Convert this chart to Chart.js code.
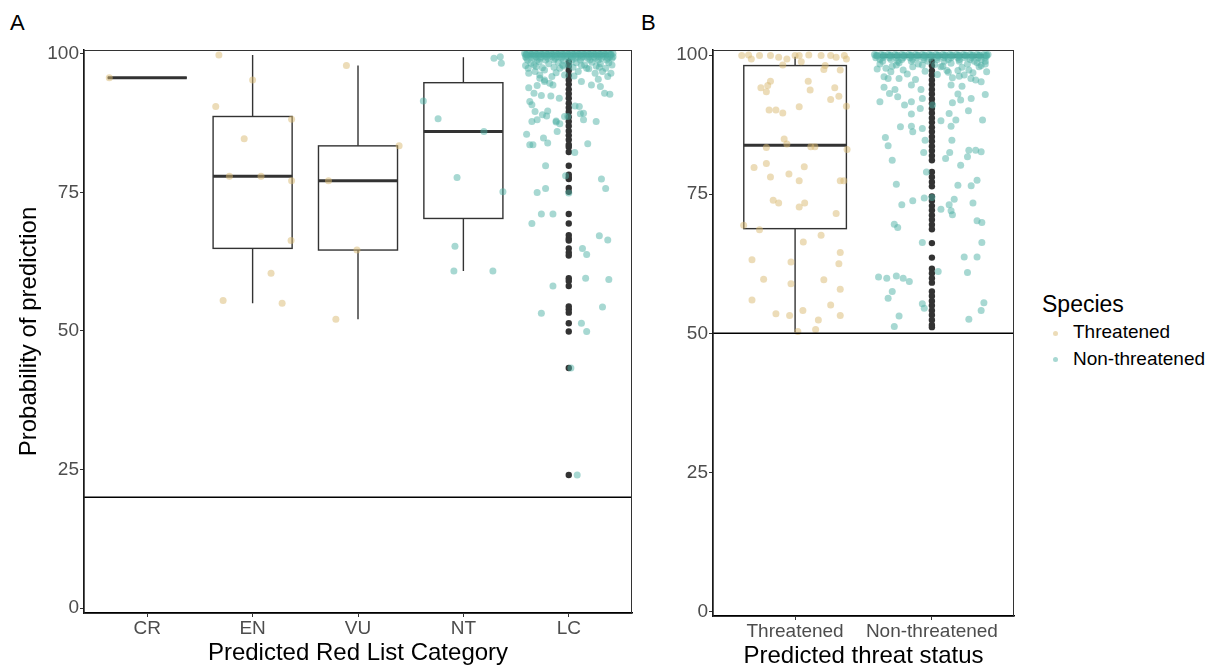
<!DOCTYPE html>
<html>
<head>
<meta charset="utf-8">
<script src="https://cdn.jsdelivr.net/npm/chart.js@4.4.1/dist/chart.umd.min.js"></script>
<style>
  body { margin: 0; background: #fff; width: 1211px; height: 666px; overflow: hidden; position: relative;
         font-family: "Liberation Sans", Arial, sans-serif; }
  #wrapA { position: absolute; left: 0; top: 0; width: 640px; height: 666px; }
  #wrapB { position: absolute; left: 640px; top: 0; width: 400px; height: 666px; }
  .tag { position: absolute; font-size: 22px; line-height: 22px; color: #000; }
  .leg { position: absolute; color: #000; white-space: nowrap; }
  .dot { position: absolute; width: 5px; height: 5px; border-radius: 50%; }
</style>
</head>
<body>
<div class="tag" style="left:10px;top:12px">A</div>
<div class="tag" style="left:641px;top:12px">B</div>
<div id="wrapA"><canvas id="chartA" width="640" height="666"></canvas></div>
<div id="wrapB"><canvas id="chartB" width="400" height="666"></canvas></div>

<div class="leg" style="left:1042px;top:293px;font-size:23px;line-height:23px">Species</div>
<div class="dot" style="left:1052.5px;top:330.5px;background:rgba(217,185,113,0.5)"></div>
<div class="leg" style="left:1073px;top:322px;font-size:19px;line-height:19px">Threatened</div>
<div class="dot" style="left:1052.5px;top:356.5px;background:rgba(80,177,165,0.5)"></div>
<div class="leg" style="left:1073px;top:349px;font-size:19px;line-height:19px">Non-threatened</div>

<script>
// ---- data ----
const redListCats = ["CR", "EN", "VU", "NT", "LC"];
const threatCats = ["Threatened", "Non-threatened"];
const yTicks = [0, 25, 50, 75, 100];

// box stats: [lower whisker, Q1, median, Q3, upper whisker]
const redListBoxes = [
  [95.7, 95.7, 95.7, 95.7, 95.7],
  [55.0, 64.9, 77.9, 88.7, 99.8],
  [52.1, 64.6, 77.1, 83.4, 97.9],
  [60.8, 70.3, 86.0, 94.8, 99.4],
  [98.9, 99.6, 99.9, 100, 100]
];
const threatBoxes = [
  [50.2, 68.8, 83.8, 98.1, 99.7],
  [98.9, 99.6, 99.9, 100, 100]
];

// jittered points: [jitter (category units), probability]
const crPts = [[-0.36, 95.7]];
const enPts = [[-0.32, 99.8], [0.0, 95.3], [-0.35, 90.5], [0.37, 88.2], [-0.08, 84.7], [-0.22, 77.9],
  [0.08, 77.9], [0.37, 77.1], [0.365, 66.3], [0.175, 60.4], [-0.28, 55.5], [0.28, 55.0]];
const vuPts = [[-0.11, 97.9], [0.39, 83.4], [-0.28, 77.1], [-0.01, 64.6], [-0.21, 52.1]];
const ntPts = [[-0.38, 91.5], [-0.24, 88.3], [0.195, 86.0], [-0.06, 77.7], [0.375, 75.1], [-0.08, 65.3],
  [-0.09, 60.8], [0.28, 60.8], [0.29, 99.2], [0.35, 99.5], [0.36, 98.3]];
const lcPts = [[-0.386, 97.4], [-0.32, 96.8], [-0.275, 96.2], [-0.23, 95.3], [-0.18, 94.7], [-0.38, 93.9],
  [-0.33, 92.9], [-0.26, 92.5], [-0.17, 92.4], [-0.09, 92.0], [-0.35, 90.8], [-0.2, 89.7], [-0.25, 89.0],
  [-0.21, 88.8], [-0.35, 87.8], [-0.3, 88.1], [-0.12, 87.7], [-0.085, 87.4], [-0.11, 86.0], [-0.01, 88.7],
  [-0.4, 85.5], [-0.37, 83.6], [-0.34, 83.6], [-0.24, 84.8], [-0.2, 83.9], [0.06, 90.6], [0.1, 90.5],
  [0.11, 89.2], [0.14, 88.1], [0.26, 87.8], [0.18, 83.8], [0.057, 82.2], [-0.22, 79.8], [-0.03, 78.0],
  [0.31, 77.4], [0.35, 75.7], [-0.22, 75.7], [-0.3, 75.0], [0.0, 74.9], [-0.26, 71.1], [-0.15, 71.1],
  [-0.35, 69.4], [0.29, 67.2], [0.37, 66.4], [0.13, 64.9], [0.17, 63.8], [0.16, 59.5], [0.38, 59.3],
  [-0.15, 58.1], [0.32, 54.3], [-0.26, 53.2], [0.12, 51.4], [0.17, 49.9], [0.02, 43.3], [0.08, 24.0],
  [0.09, 96.8], [0.17, 97.4], [0.25, 96.5], [0.32, 96.8], [0.37, 95.9], [0.215, 94.4], [0.3, 94.1],
  [0.34, 92.9], [0.39, 92.7], [0.14, 89.3], [-0.31, 97.7], [-0.23, 97.1], [-0.16, 95.9], [-0.085, 97.4],
  [-0.04, 96.2], [-0.275, 95.6], [-0.23, 95.0], [-0.15, 94.4], [-0.37, 91.4], [-0.32, 89.6], [-0.12, 87.9],
  [-0.04, 88.7], [-0.36, 98.3], [-0.28, 98.6], [-0.19, 98.2], [-0.1, 98.5], [0.0, 98.1], [0.07, 98.4],
  [0.15, 98.0], [0.22, 98.5], [0.3, 98.2], [0.38, 98.4], [-0.05, 97.8], [0.26, 97.8],
  [-0.41, 97.9], [-0.33, 98.0], [-0.25, 97.5], [-0.14, 97.6], [-0.06, 98.0], [0.04, 97.6], [0.12, 97.9],
  [0.19, 97.3], [0.29, 97.6], [0.35, 97.4], [0.41, 98.0], [-0.38, 96.5], [-0.12, 96.6], [0.05, 96.0],
  [0.28, 95.4], [0.12, 95.0], [-0.3, 94.3], [0.4, 96.5]];
// the solid band of LC points at the top
const lcBand = [
  [-0.42, 100.1], [-0.37, 100.1], [-0.32, 100.1], [-0.27, 100.1], [-0.22, 100.1], [-0.17, 100.1],
  [-0.12, 100.1], [-0.07, 100.1], [-0.02, 100.1], [0.03, 100.1], [0.08, 100.1], [0.13, 100.1],
  [0.18, 100.1], [0.23, 100.1], [0.28, 100.1], [0.33, 100.1], [0.38, 100.1], [0.42, 100.1],
  [-0.4, 100.0], [-0.35, 100.0], [-0.3, 100.0], [-0.25, 100.0], [-0.2, 100.0], [-0.15, 100.0],
  [-0.1, 100.0], [-0.05, 100.0], [0.0, 100.0], [0.05, 100.0], [0.1, 100.0], [0.15, 100.0],
  [0.2, 100.0], [0.25, 100.0], [0.3, 100.0], [0.35, 100.0], [0.4, 100.0],
  [-0.41, 99.9], [-0.36, 99.9], [-0.31, 99.9], [-0.26, 99.9], [-0.21, 99.9], [-0.16, 99.9],
  [-0.11, 99.9], [-0.06, 99.9], [-0.01, 99.9], [0.04, 99.9], [0.09, 99.9], [0.14, 99.9],
  [0.19, 99.9], [0.24, 99.9], [0.29, 99.9], [0.34, 99.9], [0.39, 99.9],
  [-0.4, 99.8], [-0.35, 99.8], [-0.3, 99.8], [-0.25, 99.8], [-0.2, 99.8], [-0.15, 99.8], [-0.1, 99.8],
  [-0.05, 99.8], [0.0, 99.8], [0.05, 99.8], [0.1, 99.8], [0.15, 99.8], [0.2, 99.8], [0.25, 99.8],
  [0.3, 99.8], [0.35, 99.8], [0.4, 99.8],
  [-0.41, 99.5], [-0.36, 99.5], [-0.31, 99.5], [-0.26, 99.5], [-0.21, 99.5], [-0.16, 99.5],
  [-0.11, 99.5], [-0.06, 99.5], [-0.01, 99.5], [0.04, 99.5], [0.09, 99.5], [0.14, 99.5],
  [0.19, 99.5], [0.24, 99.5], [0.29, 99.5], [0.34, 99.5], [0.39, 99.5], [0.42, 99.5],
  [-0.4, 99.2], [-0.33, 99.2], [-0.27, 99.2], [-0.2, 99.2], [-0.13, 99.2], [-0.07, 99.2], [0.0, 99.2],
  [0.06, 99.2], [0.12, 99.2], [0.18, 99.2], [0.25, 99.2], [0.31, 99.2], [0.37, 99.2], [0.41, 99.2],
  [-0.39, 98.9], [-0.3, 98.9], [-0.22, 98.9], [-0.14, 98.9], [-0.05, 98.9], [0.03, 98.9], [0.11, 98.9],
  [0.2, 98.9], [0.28, 98.9], [0.36, 98.9]];
const lcOutliers = [98.6, 97.8, 97.0, 96.1, 95.3, 94.5, 93.6, 92.8, 92.0, 91.1, 90.3, 89.5, 88.6, 87.8,
  87.0, 86.1, 85.3, 84.5, 83.6, 83.2, 82.3, 79.8, 78.2, 77.7, 77.4, 75.8, 75.1, 71.1, 69.4, 67.3, 66.7,
  66.3, 64.9, 64.1, 63.6, 59.5, 59.0, 58.1, 54.4, 53.9, 53.3, 51.4, 49.9, 43.3, 24.0];

const thrPts = [[-0.39, 99.9], [-0.32, 99.3], [-0.26, 99.9], [-0.18, 99.9], [-0.06, 99.3], [0.0, 99.9],
  [0.03, 99.9], [0.045, 98.8], [-0.09, 98.2], [0.19, 99.9], [0.26, 99.9], [0.22, 98.1], [0.21, 97.4],
  [0.33, 97.3], [0.36, 99.9], [0.375, 99.3], [-0.18, 95.3], [-0.2, 94.5], [-0.25, 94.1], [-0.21, 93.4],
  [0.096, 95.3], [0.11, 93.7], [0.29, 94.1], [0.26, 92.0], [0.32, 92.6], [0.375, 90.8], [0.03, 90.7],
  [-0.19, 90.1], [-0.14, 90.1], [-0.09, 89.6], [-0.08, 84.9], [-0.06, 84.0], [-0.21, 83.4], [0.115, 83.5],
  [0.145, 83.5], [0.38, 83.0], [-0.3, 79.8], [-0.21, 80.5], [-0.045, 78.6], [-0.18, 78.1], [0.067, 79.9],
  [0.03, 77.4], [0.33, 77.4], [0.356, 77.4], [-0.16, 73.9], [-0.12, 73.4], [0.07, 73.4], [0.03, 72.7],
  [0.3, 71.5], [-0.376, 69.4], [-0.26, 68.6], [0.19, 67.6], [0.06, 66.4], [0.33, 64.5], [-0.315, 63.2],
  [-0.03, 62.8], [0.32, 62.5], [-0.23, 59.7], [0.21, 59.6], [-0.03, 58.9], [0.33, 57.9], [-0.315, 56.0],
  [0.26, 55.1], [-0.14, 53.5], [-0.04, 53.2], [0.057, 54.1], [0.33, 53.2], [0.17, 52.4], [0.02, 50.3],
  [0.15, 50.7], [-0.34, 100], [-0.12, 99.6], [0.1, 100], [0.3, 99.6]];
const nonPts = [[-0.336, 97.6], [-0.29, 98.0], [-0.21, 97.3], [-0.14, 97.9], [-0.07, 98.2], [-0.35, 96.1],
  [-0.32, 95.8], [-0.24, 95.8], [-0.12, 95.6], [-0.15, 94.6], [-0.08, 93.8], [-0.35, 94.2], [-0.27, 93.8],
  [-0.31, 93.1], [-0.25, 92.5], [-0.38, 91.6], [-0.2, 91.0], [-0.15, 91.6], [-0.07, 92.2], [-0.085, 90.4],
  [-0.15, 89.4], [-0.23, 87.1], [-0.15, 87.2], [-0.14, 86.2], [-0.07, 86.8], [-0.34, 85.2], [-0.32, 83.7],
  [-0.05, 84.7], [-0.06, 82.5], [-0.29, 81.1], [-0.04, 79.0], [-0.26, 76.8], [-0.22, 73.1], [-0.14, 73.8],
  [-0.275, 69.6], [-0.25, 69.0], [-0.07, 66.3], [-0.39, 60.1], [-0.33, 59.9], [-0.26, 60.3], [-0.21, 59.9],
  [-0.165, 59.3], [-0.29, 57.5], [-0.32, 56.3], [-0.07, 55.3], [-0.056, 54.5], [-0.24, 53.1], [-0.275, 51.2],
  [0.066, 97.9], [0.11, 97.2], [0.19, 97.2], [0.27, 97.3], [0.345, 97.9], [0.39, 98.4], [0.15, 95.9],
  [0.2, 96.2], [0.236, 96.4], [0.285, 95.8], [0.32, 95.5], [0.36, 95.2], [0.14, 94.6], [0.22, 94.4],
  [0.19, 93.0], [0.287, 92.2], [0.39, 92.9], [0.15, 91.4], [0.21, 91.9], [0.267, 90.0], [0.126, 89.5],
  [0.175, 88.3], [0.066, 88.2], [0.14, 87.2], [0.37, 88.3], [0.146, 84.7], [0.27, 82.9], [0.32, 82.9],
  [0.36, 82.6], [0.26, 81.7], [0.13, 82.5], [0.1, 81.4], [0.21, 80.2], [0.33, 77.5], [0.19, 76.6],
  [0.287, 76.5], [0.163, 74.1], [0.126, 73.1], [0.066, 72.3], [0.14, 72.0], [0.15, 71.3], [0.3, 73.4],
  [0.33, 70.2], [0.365, 69.9], [0.365, 66.3], [0.236, 63.7], [0.33, 63.7], [0.046, 61.1], [0.26, 60.9],
  [0.38, 55.5], [0.36, 54.1], [0.27, 52.5], [0.005, 91.0], [-0.056, 74.3], [0.0, 74.4],
  [-0.38, 98.4], [-0.24, 98.6], [-0.1, 98.4], [0.02, 98.3], [0.14, 98.5], [0.26, 98.4], [0.33, 98.6],
  [-0.4, 97.5], [-0.3, 97.0], [-0.18, 96.6], [-0.05, 97.1], [0.04, 96.5], [0.12, 96.9], [0.22, 97.8],
  [0.3, 96.8], [0.4, 97.0], [-0.26, 98.2], [0.08, 98.0], [0.36, 98.1]];
const nonBand = [
  [-0.42, 100.1], [-0.37, 100.1], [-0.32, 100.1], [-0.27, 100.1], [-0.22, 100.1], [-0.17, 100.1],
  [-0.12, 100.1], [-0.07, 100.1], [-0.02, 100.1], [0.03, 100.1], [0.08, 100.1], [0.13, 100.1],
  [0.18, 100.1], [0.23, 100.1], [0.28, 100.1], [0.33, 100.1], [0.38, 100.1], [0.41, 100.1],
  [-0.4, 100.0], [-0.35, 100.0], [-0.3, 100.0], [-0.25, 100.0], [-0.2, 100.0], [-0.15, 100.0],
  [-0.1, 100.0], [-0.05, 100.0], [0.0, 100.0], [0.05, 100.0], [0.1, 100.0], [0.15, 100.0],
  [0.2, 100.0], [0.25, 100.0], [0.3, 100.0], [0.35, 100.0], [0.4, 100.0],
  [-0.41, 99.9], [-0.36, 99.9], [-0.31, 99.9], [-0.26, 99.9], [-0.21, 99.9], [-0.16, 99.9],
  [-0.11, 99.9], [-0.06, 99.9], [-0.01, 99.9], [0.04, 99.9], [0.09, 99.9], [0.14, 99.9],
  [0.19, 99.9], [0.24, 99.9], [0.29, 99.9], [0.34, 99.9], [0.39, 99.9],
  [-0.4, 99.8], [-0.35, 99.8], [-0.3, 99.8], [-0.25, 99.8], [-0.2, 99.8], [-0.15, 99.8], [-0.1, 99.8],
  [-0.05, 99.8], [0.0, 99.8], [0.05, 99.8], [0.1, 99.8], [0.15, 99.8], [0.2, 99.8], [0.25, 99.8],
  [0.3, 99.8], [0.35, 99.8], [0.4, 99.8],
  [-0.41, 99.5], [-0.36, 99.5], [-0.31, 99.5], [-0.26, 99.5], [-0.21, 99.5], [-0.16, 99.5],
  [-0.11, 99.5], [-0.06, 99.5], [-0.01, 99.5], [0.04, 99.5], [0.09, 99.5], [0.14, 99.5],
  [0.19, 99.5], [0.24, 99.5], [0.29, 99.5], [0.34, 99.5], [0.39, 99.5],
  [-0.38, 99.2], [-0.3, 99.2], [-0.22, 99.2], [-0.14, 99.2], [-0.06, 99.2], [0.04, 99.2], [0.12, 99.2],
  [0.2, 99.2], [0.28, 99.2], [0.36, 99.2],
  [-0.36, 98.9], [-0.25, 98.9], [-0.15, 98.9], [-0.03, 98.9], [0.09, 98.9], [0.2, 98.9], [0.31, 98.9], [0.39, 98.9]];
const nonOutliers = [98.9, 98.1, 97.2, 96.4, 95.5, 94.7, 93.8, 93.0, 92.1, 91.3, 90.4, 89.6, 88.7, 87.9,
  87.0, 86.2, 85.3, 84.5, 83.6, 82.8, 81.9, 81.1, 79.0, 78.1, 77.2, 76.4, 74.6, 73.8, 72.9, 72.1, 71.2,
  70.4, 69.5, 68.7, 66.2, 63.6, 61.6, 60.8, 59.9, 59.1, 57.5, 56.7, 55.8, 55.0, 54.1, 53.3, 52.4, 51.5, 51.1];

// ---- styles ----
const TAN = "rgba(217,185,113,0.5)";
const TEAL = "rgba(80,177,165,0.5)";
const FONT = "'Liberation Sans', Arial, sans-serif";

const toXY = (pts, cat) => pts.map(p => ({ x: cat + p[0], y: p[1] }));

function panelPlugin(boxes, hline) {
  return {
    id: "panel",
    beforeDatasetsDraw(chart) {
      const { ctx, scales: { x, y } } = chart;
      ctx.save();
      ctx.strokeStyle = "#333";
      boxes.forEach((b, i) => {
        const xl = x.getPixelForValue(i + 1 - 0.375);
        const xr = x.getPixelForValue(i + 1 + 0.375);
        const xc = x.getPixelForValue(i + 1);
        const [lo, q1, med, q3, hi] = b.map(v => y.getPixelForValue(v));
        ctx.lineWidth = 1.4;
        ctx.beginPath();
        ctx.moveTo(xc, hi); ctx.lineTo(xc, q3);
        ctx.moveTo(xc, q1); ctx.lineTo(xc, lo);
        ctx.stroke();
        ctx.strokeRect(xl, q3, xr - xl, q1 - q3);
        ctx.lineWidth = 3;
        ctx.beginPath();
        ctx.moveTo(xl, med); ctx.lineTo(xr, med);
        ctx.stroke();
      });
      ctx.restore();
    },
    afterDatasetsDraw(chart) {
      const { ctx, chartArea, scales: { y } } = chart;
      const yy = y.getPixelForValue(hline);
      ctx.save();
      ctx.strokeStyle = "#000";
      ctx.lineWidth = 1.5;
      ctx.beginPath();
      ctx.moveTo(chartArea.left, yy); ctx.lineTo(chartArea.right, yy);
      ctx.stroke();
      ctx.restore();
    },
    afterDraw(chart) {
      const { ctx, chartArea: a } = chart;
      ctx.save();
      ctx.strokeStyle = "#333";
      ctx.lineWidth = 1;
      ctx.strokeRect(a.left, a.top + 0.5, a.right - a.left - 0.5, a.bottom - a.top);
      ctx.restore();
    }
  };
}

function axes(cats, xTitle, titleShift, yMin, yMax, yWidth, xHeight, yTitle) {
  return {
    x: {
      type: "linear", min: 0.4, max: cats.length + 0.6,
      afterBuildTicks: s => { s.ticks = cats.map((c, i) => ({ value: i + 1 })); },
      afterFit: s => { s.height = xHeight; },
      ticks: { autoSkip: false, maxRotation: 0, padding: 0, color: "#4d4d4d",
               font: { family: FONT, size: 19 }, callback: (v, i) => cats[i] },
      grid: { display: true, drawOnChartArea: false, drawTicks: true, tickLength: 4, color: "#333" },
      border: { display: true, color: "#000", width: 1.5 },
      title: { display: true, text: xTitle, color: "#000", font: { family: FONT, size: 24 },
               padding: { top: 0, bottom: titleShift } }
    },
    y: {
      type: "linear", min: yMin, max: yMax,
      afterBuildTicks: s => { s.ticks = yTicks.map(v => ({ value: v })); },
      afterFit: s => { s.width = yWidth; },
      ticks: { padding: 1, color: "#4d4d4d", font: { family: FONT, size: 19 } },
      grid: { display: true, drawOnChartArea: false, drawTicks: true, tickLength: 4, color: "#333" },
      border: { display: true, color: "#000", width: 1.5 },
      title: { display: !!yTitle, text: yTitle || "", color: "#000",
               font: { family: FONT, size: 24 }, padding: { top: 15, bottom: 0 } }
    }
  };
}

const common = {
  responsive: false,
  animation: false,
  plugins: { legend: { display: false }, tooltip: { enabled: false } }
};

new Chart(document.getElementById("chartA"), {
  type: "scatter",
  data: {
    datasets: [
      { label: "Threatened", order: 1, pointRadius: 3.5, borderWidth: 0, backgroundColor: TAN,
        data: [...toXY(crPts, 1), ...toXY(enPts, 2), ...toXY(vuPts, 3)] },
      { label: "Non-threatened", order: 1, pointRadius: 3.5, borderWidth: 0, backgroundColor: TEAL,
        data: [...toXY(ntPts, 4), ...toXY(lcPts, 5), ...toXY(lcBand, 5)] },
      { label: "outliers", order: 3, pointRadius: 3.2, borderWidth: 0, backgroundColor: "#333",
        data: lcOutliers.map(v => ({ x: 5, y: v })) }
    ]
  },
  options: {
    ...common,
    layout: { padding: { left: 0, right: 8, top: 50, bottom: 0 } },
    scales: axes(redListCats, "Predicted Red List Category", -2, -0.9, 100.7, 84, 53, "Probability of prediction")
  },
  plugins: [panelPlugin(redListBoxes, 20)]
});

new Chart(document.getElementById("chartB"), {
  type: "scatter",
  data: {
    datasets: [
      { label: "Threatened", order: 1, pointRadius: 3.5, borderWidth: 0, backgroundColor: TAN,
        data: toXY(thrPts, 1) },
      { label: "Non-threatened", order: 1, pointRadius: 3.5, borderWidth: 0, backgroundColor: TEAL,
        data: [...toXY(nonPts, 2), ...toXY(nonBand, 2)] },
      { label: "outliers", order: 3, pointRadius: 3.2, borderWidth: 0, backgroundColor: "#333",
        data: nonOutliers.map(v => ({ x: 2, y: v })) }
    ]
  },
  options: {
    ...common,
    layout: { padding: { left: 0, right: 26, top: 50, bottom: 0 } },
    scales: axes(threatCats, "Predicted threat status", -5, -0.8, 100.9, 73, 50, null)
  },
  plugins: [panelPlugin(threatBoxes, 50)]
});
</script>
</body>
</html>
